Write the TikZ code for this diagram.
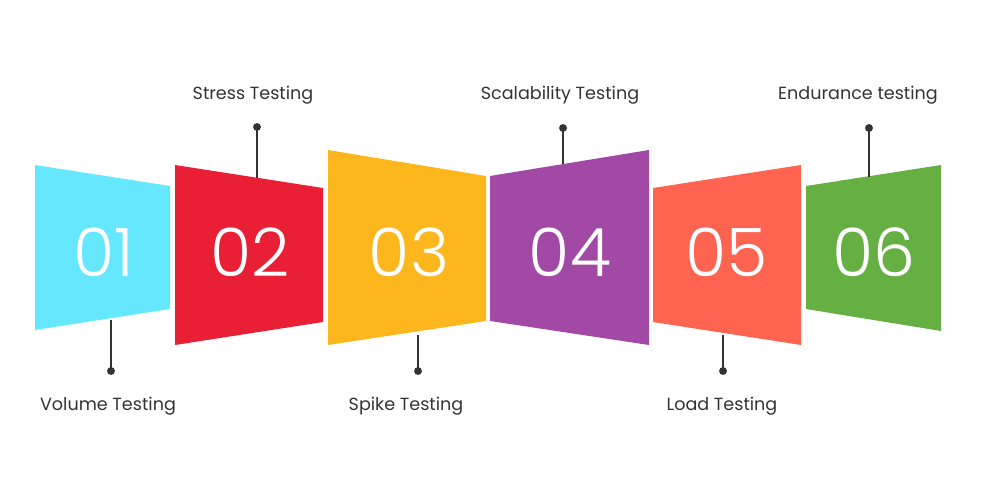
\documentclass[tikz,border=0pt]{standalone}
\usepackage{fontspec}
\setmainfont{Poppins}
\newfontfamily\numfont{Poppins}[UprightFont=*-Light]
\usetikzlibrary{calc}
\definecolor{cyanbox}{HTML}{65E7FD}
\definecolor{redbox}{HTML}{E91F35}
\definecolor{yellowbox}{HTML}{FDB71C}
\definecolor{purplebox}{HTML}{A149A4}
\definecolor{orangebox}{HTML}{FE644F}
\definecolor{greenbox}{HTML}{65AF43}
\definecolor{leader}{HTML}{333333}
\tikzset{
%numbers and labels
number/.style={text=white, font=\numfont\fontsize{38}{40}\selectfont},
label text/.style={text=leader, font=\fontsize{10}{12}\selectfont},
%leader lines
leader line/.style={leader, line width=0.7pt},
dot/.style={circle, fill=leader, inner sep=0pt, minimum size=4.5pt},
}

\begin{document}
\begin{tikzpicture}[x=0.02cm, y=-0.02cm]
\useasboundingbox (0,0) rectangle (1000,500);

% the six boxes
\fill[cyanbox] (35,165) -- (170,186) -- (170,309) -- (35,330) -- cycle;
\fill[redbox] (175,165) -- (323,188) -- (323,322) -- (175,345) -- cycle;
\fill[yellowbox] (328,150) -- (486,176) -- (486,321) -- (328,345) -- cycle;
\fill[purplebox] (490,176) -- (649,150) -- (649,345) -- (490,321) -- cycle;
\fill[orangebox] (653,188) -- (801,165) -- (801,345) -- (653,322) -- cycle;
\fill[greenbox] (806,186) -- (941,165) -- (941,331) -- (806,309) -- cycle;

\node[number] (n1) at (104,252) {01};
\node[number] (n2) at (250,252) {02};
\node[number] (n3) at (409,252) {03};
\node[number] (n4) at (570,252) {04};
\node[number] (n5) at (727,252) {05};
\node[number] (n6) at (874,252) {06};

% leaders
\path coordinate (e1) at (111,320) coordinate (e2) at (257,178)
 coordinate (e3) at (418,335) coordinate (e4) at (563,164)
 coordinate (e5) at (723,335) coordinate (e6) at (869,177);
\node[dot] (d1) at (111,371) {};
\node[dot] (d2) at (257,127) {};
\node[dot] (d3) at (418,371) {};
\node[dot] (d4) at (563,128) {};
\node[dot] (d5) at (723,371) {};
\node[dot] (d6) at (869,128) {};
\foreach \i in {1,...,6}
  \draw[leader line] (e\i) -- (d\i.center);

\node[label text] (l1) at (108,406) {Volume Testing};
\node[label text] (l2) at (253,95) {Stress Testing};
\node[label text] (l3) at (406,406) {Spike Testing};
\node[label text] (l4) at (560,95) {Scalability Testing};
\node[label text] (l5) at (722,406) {Load Testing};
\node[label text] (l6) at (858,95) {Endurance testing};
\end{tikzpicture}
\end{document}
